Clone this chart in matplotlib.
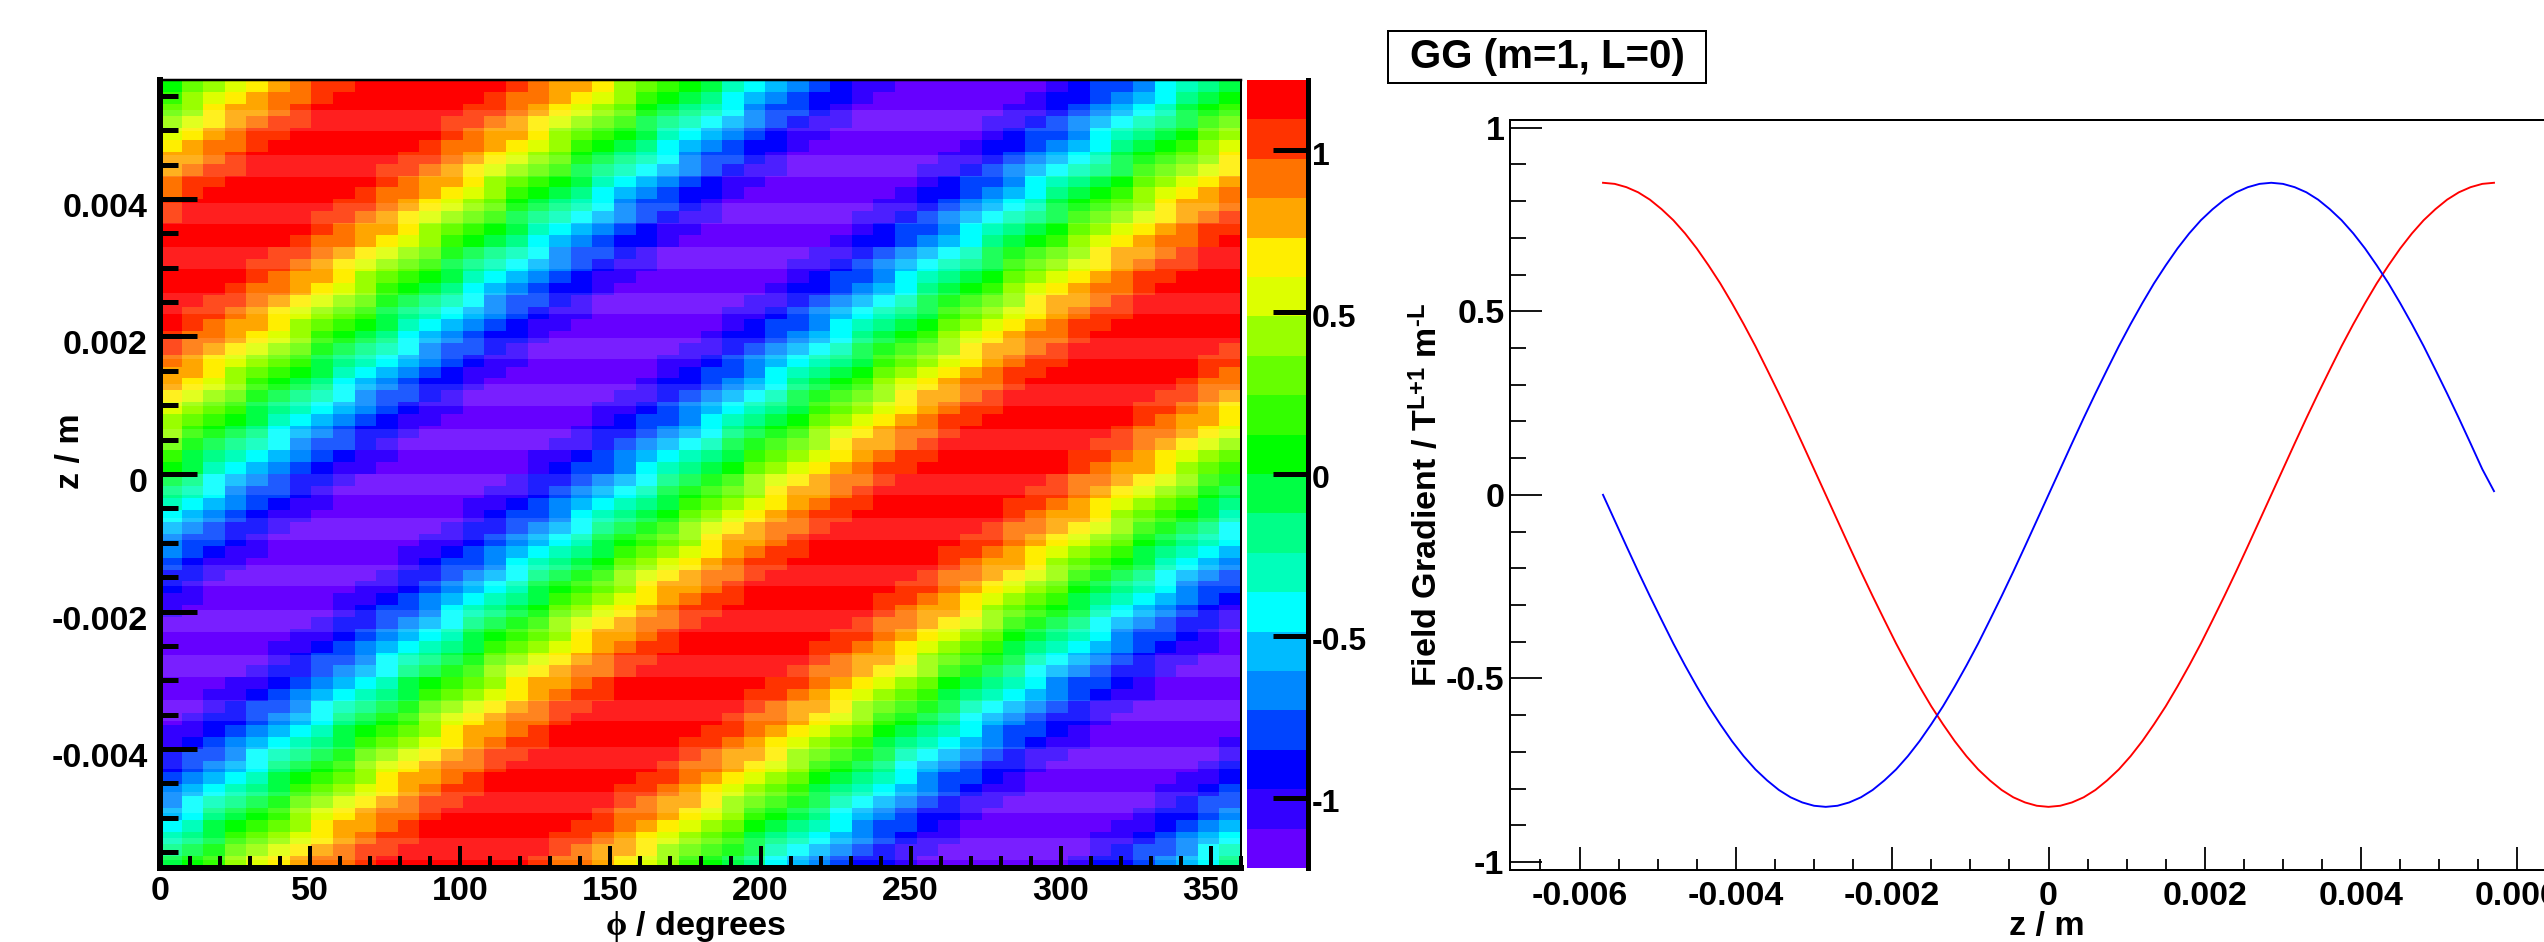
import numpy as np
import matplotlib
matplotlib.use('Agg')
import matplotlib.pyplot as plt
from matplotlib.colors import ListedColormap, BoundaryNorm
from matplotlib.ticker import FixedLocator, FixedFormatter
from matplotlib.transforms import ScaledTranslation

plt.rcParams['font.family'] = ['Liberation Sans', 'DejaVu Sans']
plt.rcParams['font.weight'] = 'bold'
plt.rcParams['mathtext.fontset'] = 'custom'
plt.rcParams['mathtext.rm'] = 'Liberation Sans:bold'
plt.rcParams['mathtext.bf'] = 'Liberation Sans:bold'
plt.rcParams['mathtext.it'] = 'Liberation Serif'

W, H = 2544, 942
PX = 0.72  # one pixel in points at dpi 100

# palette, lowest band first
band_colors = ['#6600ff', '#3300ff', '#0000ff', '#0044ff', '#0088ff',
               '#00bbff', '#00ffff', '#00ffbb', '#00ff88', '#00ff44',
               '#00ff00', '#33ff00', '#66ff00', '#99ff00', '#ddff00',
               '#ffee00', '#ffa600', '#ff7300', '#ff3300', '#ff0000']
band_codes = '0123456789abcdefghij'
z_limit = 1.217

# heatmap cells, top row first, one code per cell (spaces only for reading)
map_rows = [
    'acdefghiijjj jjjji hggfd cba97 65432 11000 00001 23346 789',
    'bdefgh hijjj jjjji hhgfe dba98 65432 21000 00001 22345 689a',
    'c dfggh ijjjj jjjii hgfed ca987 64332 10000 00011 23456 79ab',
    'defgh iijjj jjjii hgfed cb987 65432 11000 00011 23456 789bc',
    'efgh iijjj jjjji hggfd cba97 65432 11000 00001 23346 789ac d',
    'fgh hijjj jjjji hhgfe dba98 65432 21000 00001 22345 689ab de',
    'ggh ijjjj jjjii hgfed ca987 64332 10000 00011 23456 79abc df',
    'gh iijjj jjjii hgfed cb987 65432 11000 00011 23456 789bc def',
    'h iijjj jjjji hggfd cba97 65432 11000 00001 23346 789ac defg',
    'hijjj jjjji hhgfe dba98 65432 21000 00001 22345 689ab defgh',
    'ijjjj jjjii hgfed ca987 64332 10000 00011 23456 79abc dfggh',
    'ijjj jjjii hgfed cb987 65432 11000 00011 23456 789bc defgh i',
    'jjj jjjji hggfd cba97 65432 11000 00001 23346 789ac defgh ii',
    'jj jjjji hhgfe dba98 65432 21000 00001 22345 689ab defgh hij',
    'jj jjjii hgfed ca987 64332 10000 00011 23456 79abc dfggh ijj',
    'j jjjii hgfed cb987 65432 11000 00011 23456 789bc defgh iijj',
    'jjjji hggfd cba97 65432 11000 00001 23346 789ac defgh iijjj',
    'jjji hhgfe dba98 65432 21000 00001 22345 689ab defgh hijjj j',
    'jjii hgfed ca987 64332 10000 00011 23456 79abc dfggh ijjjj j',
    'jii hgfed cb987 65432 11000 00011 23456 789bc defgh iijjj jj',
    'ji hggfd cba97 65432 11000 00001 23346 789ac defgh iijjj jjj',
    'i hhgfe dba98 65432 21000 00001 22345 689ab defgh hijjj jjjj',
    'i hgfed ca987 64332 10000 00011 23456 79abc dfggh ijjjj jjji',
    'hgfed cb987 65432 11000 00011 23456 789bc defgh iijjj jjjii',
    'ggfd cba97 65432 11000 00001 23346 789ac defgh iijjj jjjji h',
    'gfe dba98 65432 21000 00001 22345 689ab defgh hijjj jjjji hh',
    'fed ca987 64332 10000 00011 23456 79abc dfggh ijjjj jjjii hg',
    'ed cb987 65432 11000 00011 23456 789bc defgh iijjj jjjii hgf',
    'd cba97 65432 11000 00001 23346 789ac defgh iijjj jjjji hggf',
    'dba98 65432 21000 00001 22345 689ab defgh hijjj jjjji hhgfe',
    'ca987 64332 10000 00011 23456 79abc dfggh ijjjj jjjii hgfed',
    'b987 65432 11000 00011 23456 789bc defgh iijjj jjjii hgfed c',
    'a97 65432 11000 00001 23346 789ac defgh iijjj jjjji hggfd cb',
    '98 65432 21000 00001 22345 689ab defgh hijjj jjjji hhgfe dba',
    '87 64332 10000 00011 23456 79abc dfggh ijjjj jjjii hgfed ca9',
    '7 65432 11000 00011 23456 789bc defgh iijjj jjjii hgfed cb98',
    '65432 11000 00001 23346 789ac defgh iijjj jjjji hggfd cba97',
    '5432 21000 00001 22345 689ab defgh hijjj jjjji hhgfe dba98 6',
    '4332 10000 00011 23456 79abc dfggh ijjjj jjjii hgfed ca987 6',
    '432 11000 00011 23456 789bc defgh iijjj jjjii hgfed cb987 65',
    '32 11000 00001 23346 789ac defgh iijjj jjjji hggfd cba97 654',
    '2 21000 00001 22345 689ab defgh hijjj jjjji hhgfe dba98 6543',
    '2 10000 00011 23456 79abc dfggh ijjjj jjjii hgfed ca987 6433',
    '11000 00011 23456 789bc defgh iijjj jjjii hgfed cb987 65432',
    '1000 00001 23346 789ac defgh iijjj jjjji hggfd cba97 65432 1',
    '000 00001 22345 689ab defgh hijjj jjjji hhgfe dba98 65432 21',
    '000 00011 23456 79abc dfggh ijjjj jjjii hgfed ca987 64332 10',
    '00 00011 23456 789bc defgh iijjj jjjii hgfed cb987 65432 110',
    '0 00001 23346 789ac defgh iijjj jjjji hggfd cba97 65432 1100',
    '00001 22345 689ab defgh hijjj jjjji hhgfe dba98 65432 21000',
    '00011 23456 79abc dfggh ijjjj jjjii hgfed ca987 64332 10000',
    '0011 23456 789bc defgh iijjj jjjii hgfed cb987 65432 11000 0',
    '001 23346 789ac defgh iijjj jjjji hggfd cba97 65432 11000 00',
    '01 22345 689ab defgh hijjj jjjji hhgfe dba98 65432 21000 000',
    '11 23456 79abc dfggh ijjjj jjjii hgfed ca987 64332 10000 000',
    '1 23456 789bc defgh iijjj jjjii hgfed cb987 65432 11000 0001',
    '23346 789ac defgh iijjj jjjji hggfd cba97 65432 11000 00001',
    '2345 689ab defgh hijjj jjjji hhgfe dba98 65432 21000 00001 2',
    '3456 79abc dfggh ijjjj jjjii hgfed ca987 64332 10000 00011 2',
    '456 789bc defgh iijjj jjjii hgfed cb987 65432 11000 00011 23',
    '46 789ac defgh iijjj jjjji hggfd cba97 65432 11000 00001 233',
    '5 689ab defgh hijjj jjjji hhgfe dba98 65432 21000 00001 2234',
    '6 79abc dfggh ijjjj jjjii hgfed ca987 64332 10000 00011 2345',
    '789bc defgh iijjj jjjii hgfed cb987 65432 11000 00011 23456',
    '89ac defgh iijjj jjjji hggfd cba97 65432 11000 00001 23346 7',
    '9ab defgh hijjj jjjji hhgfe dba98 65432 21000 00001 22345 68',
]

# the paler stripes across the map, start in rows from the top
pale_rows = [2.5, 6.3, 10.3, 14.0, 17.8, 21.6, 25.5, 29.2, 33.0,
             36.7, 40.6, 44.4, 48.2, 51.9, 55.9, 59.6, 63.5]

phi_limit = 360
map_z_limit = 0.00573

phi_ticks = [0, 50, 100, 150, 200, 250, 300, 350]
phi_minor = [10, 20, 30, 40, 60, 70, 80, 90, 110, 120, 130, 140, 160, 170, 180, 190,
             210, 220, 230, 240, 260, 270, 280, 290, 310, 320, 330, 340, 360]
map_z_ticks = [-0.004, -0.002, 0, 0.002, 0.004]
map_z_labels = ['-0.004', '-0.002', '0', '0.002', '0.004']
bar_ticks = [-1, -0.5, 0, 0.5, 1]
bar_labels = ['-1', '-0.5', '0', '0.5', '1']

# field gradient curves
z_pos = [-0.0057, -0.00555, -0.0054, -0.00525, -0.0051, -0.00495, -0.0048, -0.00465, -0.0045, -0.00435,
         -0.0042, -0.00405, -0.0039, -0.00375, -0.0036, -0.00345, -0.0033, -0.00315, -0.003, -0.00285,
         -0.0027, -0.00255, -0.0024, -0.00225, -0.0021, -0.00195, -0.0018, -0.00165, -0.0015, -0.00135,
         -0.0012, -0.00105, -0.0009, -0.00075, -0.0006, -0.00045, -0.0003, -0.00015, 0,
         0.00015, 0.0003, 0.00045, 0.0006, 0.00075, 0.0009, 0.00105, 0.0012, 0.00135, 0.0015,
         0.00165, 0.0018, 0.00195, 0.0021, 0.00225, 0.0024, 0.00255, 0.0027, 0.00285, 0.003,
         0.00315, 0.0033, 0.00345, 0.0036, 0.00375, 0.0039, 0.00405, 0.0042, 0.00435, 0.0045,
         0.00465, 0.0048, 0.00495, 0.0051, 0.00525, 0.0054, 0.00555, 0.0057]
red_curve = [0.85, 0.847, 0.838, 0.824, 0.804, 0.778, 0.748, 0.712, 0.671, 0.625,
             0.576, 0.522, 0.465, 0.405, 0.341, 0.276, 0.209, 0.14, 0.07, 0,
             -0.07, -0.14, -0.209, -0.276, -0.341, -0.405, -0.465, -0.522, -0.576, -0.625,
             -0.671, -0.712, -0.748, -0.778, -0.804, -0.824, -0.838, -0.847, -0.85,
             -0.847, -0.838, -0.824, -0.804, -0.778, -0.748, -0.712, -0.671, -0.625, -0.576,
             -0.522, -0.465, -0.405, -0.341, -0.276, -0.209, -0.14, -0.07, 0, 0.07,
             0.14, 0.209, 0.276, 0.341, 0.405, 0.465, 0.522, 0.576, 0.625, 0.671,
             0.712, 0.748, 0.778, 0.804, 0.824, 0.838, 0.847, 0.85]
blue_curve = [0, -0.07, -0.14, -0.209, -0.276, -0.341, -0.405, -0.465, -0.522, -0.576,
              -0.625, -0.671, -0.712, -0.748, -0.778, -0.804, -0.824, -0.838, -0.847, -0.85,
              -0.847, -0.838, -0.824, -0.804, -0.778, -0.748, -0.712, -0.671, -0.625, -0.576,
              -0.522, -0.465, -0.405, -0.341, -0.276, -0.209, -0.14, -0.07, 0,
              0.07, 0.14, 0.209, 0.276, 0.341, 0.405, 0.465, 0.522, 0.576, 0.625,
              0.671, 0.712, 0.748, 0.778, 0.804, 0.824, 0.838, 0.847, 0.85, 0.847,
              0.838, 0.824, 0.804, 0.778, 0.748, 0.712, 0.671, 0.625, 0.576, 0.522,
              0.465, 0.405, 0.341, 0.276, 0.209, 0.14, 0.07, 0.01]

grad_x_ticks = [-0.006, -0.004, -0.002, 0, 0.002, 0.004, 0.006]
grad_x_labels = ['-0.006', '-0.004', '-0.002', '0', '0.002', '0.004', '0.006']
grad_x_minor = [-0.0065, -0.0055, -0.005, -0.0045, -0.0035, -0.003, -0.0025, -0.0015, -0.001, -0.0005,
                0.0005, 0.001, 0.0015, 0.0025, 0.003, 0.0035, 0.0045, 0.005, 0.0055, 0.0065]
grad_y_ticks = [-1, -0.5, 0, 0.5, 1]
grad_y_labels = ['-1', '-0.5', '0', '0.5', '1']
grad_y_minor = [-0.9, -0.8, -0.7, -0.6, -0.4, -0.3, -0.2, -0.1, 0.1, 0.2, 0.3, 0.4, 0.6, 0.7, 0.8, 0.9]


def axes_px(fig, left, top, right, bottom):
    return fig.add_axes([left / W, 1 - bottom / H, (right - left) / W, (bottom - top) / H])


def nudge_down(labels, px):
    # tick labels sit a little under their ticks in the original
    for lbl in labels:
        lbl.set_transform(lbl.get_transform() + ScaledTranslation(0, -px / 100, fig.dpi_scale_trans))


fig = plt.figure(figsize=(W / 100, H / 100), dpi=100, facecolor='white')

# left panel, the map
levels = np.linspace(-z_limit, z_limit, 21)
centres = (levels[:-1] + levels[1:]) / 2
cells = np.array([[centres[band_codes.index(c)] for c in row.replace(' ', '')] for row in map_rows])
phi_edges = np.linspace(0, phi_limit, cells.shape[1] + 1)
z_edges = np.linspace(map_z_limit, -map_z_limit, cells.shape[0] + 1)
dz = z_edges[0] - z_edges[1]

cmap = ListedColormap(band_colors)
norm = BoundaryNorm(levels, cmap.N)

ax = axes_px(fig, 160, 80, 1241, 868)
mesh = ax.pcolormesh(phi_edges, z_edges, cells, cmap=cmap, norm=norm, linewidth=0, rasterized=True)
for r in pale_rows:
    ax.axhspan(map_z_limit - (r + 1.8) * dz, map_z_limit - r * dz, color='white', alpha=0.125, lw=0)
ax.set_xlim(0, phi_limit)
ax.set_ylim(-map_z_limit, map_z_limit)
ax.xaxis.set_major_locator(FixedLocator(phi_ticks))
ax.xaxis.set_minor_locator(FixedLocator(phi_minor))
ax.yaxis.set_major_locator(FixedLocator(map_z_ticks))
ax.yaxis.set_major_formatter(FixedFormatter(map_z_labels))
ax.yaxis.set_minor_locator(FixedLocator(np.arange(-0.0055, 0.0056, 0.0005).round(4).tolist()))
ax.tick_params(axis='x', which='major', direction='in', length=22 * PX, width=4 * PX, labelsize=24.5, pad=6)
ax.tick_params(axis='x', which='minor', direction='in', length=12 * PX, width=4 * PX)
ax.tick_params(axis='y', which='major', direction='in', length=37 * PX, width=5 * PX, labelsize=24.5, pad=9)
ax.tick_params(axis='y', which='minor', direction='in', length=18 * PX, width=5 * PX)
ax.spines['left'].set_linewidth(6 * PX)
ax.spines['bottom'].set_linewidth(6 * PX)
ax.spines['top'].set_linewidth(2.5 * PX)
ax.spines['right'].set_linewidth(2 * PX)
nudge_down(ax.get_yticklabels(), 6)

# colour bar
cax = axes_px(fig, 1247, 80, 1308, 868)
cb = fig.colorbar(mesh, cax=cax, ticks=bar_ticks, spacing='proportional', drawedges=False)
cb.outline.set_visible(False)
cax.spines['right'].set_visible(True)
cax.spines['right'].set_linewidth(5 * PX)
cax.set_yticklabels(bar_labels)
cax.tick_params(axis='y', which='major', direction='in', length=35 * PX, width=5 * PX, labelsize=23, pad=3)
cax.minorticks_off()
nudge_down(cax.get_yticklabels(), 3)

fig.text(695 / W, 1 - 926 / H, r'$\phi$ / degrees', ha='center', va='center', fontsize=24.5)
fig.text(71 / W, 1 - 451 / H, 'z / m', ha='center', va='center', rotation=90, fontsize=24.5)

# right panel, the curves
ax2 = axes_px(fig, 1510, 120, 2587, 870)
ax2.plot(z_pos, red_curve, color='#ff0000', lw=1.9 * PX)
ax2.plot(z_pos, blue_curve, color='#0000ff', lw=1.9 * PX)
ax2.set_xlim(-0.00689, 0.00689)
ax2.set_ylim(-1.022, 1.021)
ax2.xaxis.set_major_locator(FixedLocator(grad_x_ticks))
ax2.xaxis.set_major_formatter(FixedFormatter(grad_x_labels))
ax2.xaxis.set_minor_locator(FixedLocator(grad_x_minor))
ax2.yaxis.set_major_locator(FixedLocator(grad_y_ticks))
ax2.yaxis.set_major_formatter(FixedFormatter(grad_y_labels))
ax2.yaxis.set_minor_locator(FixedLocator(grad_y_minor))
ax2.tick_params(axis='x', which='major', direction='in', length=23 * PX, width=1.8 * PX, labelsize=24.5, pad=8)
ax2.tick_params(axis='x', which='minor', direction='in', length=11 * PX, width=1.8 * PX)
ax2.tick_params(axis='y', which='major', direction='in', length=32 * PX, width=1.8 * PX, labelsize=24.5, pad=4)
ax2.tick_params(axis='y', which='minor', direction='in', length=16 * PX, width=1.8 * PX)
for side in ['top', 'bottom', 'left']:
    ax2.spines[side].set_linewidth(2 * PX)
ax2.spines['right'].set_visible(False)

fig.text(1427 / W, 1 - 495 / H, r'Field Gradient / T$^{\text{L+1}}$ m$^{\text{-L}}$',
         ha='center', va='center', rotation=90, fontsize=24.5)
fig.text(2047 / W, 1 - 926 / H, 'z / m', ha='center', va='center', fontsize=24.5)

# title box
fig.text(1547 / W, 1 - 57 / H, 'GG (m=1, L=0)', ha='center', va='center', fontsize=29)
fig.add_artist(plt.Rectangle((1388 / W, 1 - 83 / H), 318 / W, 52 / H, transform=fig.transFigure,
                             facecolor='none', edgecolor='black', lw=2 * PX))

fig.savefig('out.png', dpi=100, facecolor='white')
